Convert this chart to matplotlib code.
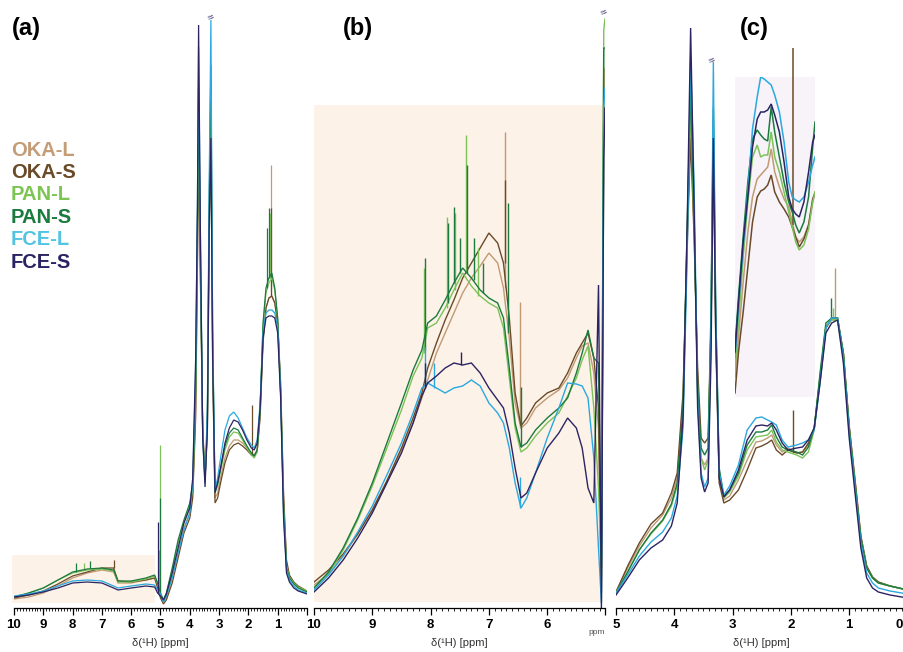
import matplotlib
matplotlib.use('Agg')
import matplotlib.pyplot as plt
from matplotlib.patches import Rectangle
from matplotlib.ticker import MultipleLocator

plt.rcParams['font.family'] = ['Liberation Sans', 'DejaVu Sans']

names = ['OKA-L', 'OKA-S', 'PAN-L', 'PAN-S', 'FCE-L', 'FCE-S']
line_colors = ['#C09A74', '#6B4A28', '#7CC258', '#1B7A3E', '#2BA8DF', '#2B2463']
legend_colors = ['#C49D78', '#6B4A28', '#7CC552', '#1B7A3E', '#52C4E2', '#2B2463']

# ---- panel (a): full spectrum, 10 -> 0 ppm ----
a_ppm = [10.0, 9.5, 9.0, 8.5, 8.0, 7.5, 7.0, 6.6, 6.45, 6.0,
         5.5, 5.2, 5.1, 5.0, 4.9, 4.8, 4.6, 4.4, 4.2, 4.0,
         3.9, 3.8, 3.74, 3.70, 3.64, 3.56, 3.48, 3.40, 3.34, 3.28, 3.22, 3.14,
         3.05, 2.95, 2.8, 2.65, 2.5, 2.35, 2.2, 2.05, 1.9, 1.8, 1.7, 1.6,
         1.5, 1.4, 1.3, 1.2, 1.1, 1.0, 0.9, 0.8, 0.7, 0.6, 0.45, 0.3, 0.0]
a_oka_l = [9, 11, 15, 22, 30, 35, 38, 36, 25, 25,
           28, 30, 22, 12, 6, 10, 30, 55, 80, 95,
           115, 200, 350, 470, 340, 180, 130, 180, 380, 496, 250, 110,
           115, 130, 150, 162, 168, 168, 165, 160, 155, 153, 158, 195,
           270, 300, 310, 312, 305, 285, 220, 110, 45, 32, 25, 21, 16]
a_oka_s = [10, 13, 17, 24, 32, 36, 40, 40, 27, 26,
           28, 30, 20, 10, 4, 8, 25, 50, 75, 90,
           110, 190, 340, 460, 330, 180, 130, 175, 360, 480, 240, 105,
           110, 125, 145, 158, 163, 165, 162, 158, 153, 152, 157, 190,
           265, 300, 310, 312, 305, 285, 225, 115, 48, 33, 26, 22, 17]
a_pan_l = [11, 15, 20, 28, 35, 38, 39, 37, 26, 26,
           29, 32, 24, 14, 8, 14, 38, 65, 85, 102,
           120, 210, 370, 500, 350, 175, 128, 185, 390, 530, 265, 115,
           122, 137, 158, 171, 176, 175, 168, 160, 153, 150, 156, 198,
           282, 315, 325, 330, 318, 288, 215, 102, 42, 31, 25, 21, 17]
a_pan_s = [11, 15, 20, 28, 36, 39, 40, 38, 27, 27,
           30, 33, 25, 15, 8, 15, 40, 68, 88, 105,
           125, 220, 380, 520, 360, 175, 128, 190, 400, 543, 270, 118,
           125, 140, 162, 175, 180, 178, 170, 162, 155, 152, 158, 200,
           285, 320, 330, 335, 320, 290, 215, 100, 40, 30, 24, 20, 16]
a_fce_l = [12, 14, 17, 22, 27, 28, 27, 22, 20, 22,
           24, 23, 18, 14, 6, 12, 30, 55, 78, 95,
           125, 240, 400, 561, 380, 170, 125, 200, 420, 588, 280, 118,
           130, 150, 178, 192, 196, 190, 180, 170, 163, 160, 168, 205,
           275, 295, 298, 298, 295, 280, 215, 95, 38, 28, 22, 18, 15]
a_fce_s = [11, 13, 16, 20, 25, 26, 25, 20, 18, 20,
           22, 21, 15, 12, 8, 14, 35, 60, 85, 100,
           130, 250, 400, 583, 380, 170, 121, 180, 380, 470, 250, 115,
           125, 140, 165, 180, 188, 186, 178, 168, 160, 158, 165, 200,
           270, 290, 292, 292, 290, 275, 210, 90, 35, 26, 20, 17, 14]
# narrow signals: (series, ppm, base, top)
a_spikes = [(2, 5.02, 15, 163), (3, 5.03, 15, 110), (5, 5.08, 15, 86), (0, 5.05, 12, 58),
            (1, 6.6, 40, 48), (0, 1.22, 312, 443), (1, 1.24, 312, 400),
            (3, 1.28, 330, 400), (2, 1.25, 330, 395), (3, 1.35, 320, 380),
            (3, 7.9, 36, 45), (2, 7.6, 38, 45), (3, 7.4, 40, 47), (1, 1.87, 153, 203)]

# ---- panel (b): 10 -> 5 ppm expansion ----
b_ppm = [10.0, 9.75, 9.5, 9.25, 9.0, 8.75, 8.5, 8.3, 8.15, 8.05,
         7.9, 7.75, 7.6, 7.45, 7.3, 7.15, 7.0, 6.85, 6.75, 6.65,
         6.55, 6.45, 6.35, 6.2, 6.0, 5.8, 5.65, 5.5, 5.4, 5.3,
         5.2, 5.12, 5.07, 5.03, 5.01]
b_oka_l = [23, 34, 52, 74, 98, 127, 158, 185, 210, 228,
           255, 275, 295, 315, 330, 342, 355, 345, 320, 270,
           205, 180, 185, 200, 210, 218, 230, 250, 262, 265,
           235, 180, 20, 540, 520]
b_oka_s = [26, 38, 54, 74, 98, 127, 160, 190, 215, 240,
           265, 288, 308, 330, 345, 360, 375, 365, 345, 290,
           215, 182, 190, 205, 215, 220, 235, 255, 265, 275,
           250, 200, 15, 455, 500]
b_pan_l = [20, 35, 58, 88, 122, 160, 198, 232, 250, 280,
           285, 300, 318, 335, 322, 312, 305, 300, 280, 230,
           180, 156, 160, 172, 185, 195, 212, 230, 248, 262,
           200, 120, 30, 578, 589]
b_pan_s = [20, 36, 60, 90, 125, 165, 205, 238, 258, 285,
           292, 308, 325, 340, 330, 318, 310, 305, 290, 240,
           185, 161, 165, 178, 190, 200, 210, 235, 255, 278,
           250, 245, 40, 560, 560]
b_fce_l = [18, 33, 52, 76, 102, 133, 165, 195, 220, 225,
           220, 215, 220, 222, 228, 222, 205, 195, 185, 160,
           125, 100, 110, 135, 170, 200, 225, 224, 222, 210,
           150, 60, 5, 500, 520]
b_fce_s = [16, 30, 48, 70, 95, 125, 155, 185, 212, 225,
           232, 240, 245, 243, 245, 235, 220, 208, 200, 175,
           140, 110, 115, 135, 160, 175, 190, 180, 160, 120,
           105, 323, 0, 450, 500]
b_spikes = [(2, 8.12, 255, 340), (3, 8.10, 258, 350), (2, 7.72, 300, 391), (3, 7.70, 305, 385),
            (3, 7.60, 325, 401), (2, 7.58, 318, 395), (3, 7.50, 335, 370), (2, 7.40, 335, 473),
            (3, 7.38, 335, 443), (3, 7.25, 328, 370), (2, 7.18, 312, 360), (3, 7.10, 315, 345),
            (0, 6.72, 320, 476), (1, 6.72, 345, 428), (3, 6.68, 275, 405), (0, 6.46, 180, 306),
            (4, 6.46, 100, 131), (3, 6.45, 161, 221), (5, 8.10, 220, 245), (5, 7.47, 243, 256),
            (4, 8.10, 222, 261), (4, 7.95, 220, 245)]

# ---- panel (c): 5 -> 0 ppm ----
c_ppm = [5.0, 4.8, 4.6, 4.4, 4.2, 4.05, 3.95, 3.85, 3.78, 3.72,
         3.66, 3.6, 3.54, 3.48, 3.42, 3.37, 3.33, 3.29, 3.23, 3.15,
         3.05, 2.9, 2.75, 2.6, 2.5, 2.4, 2.33, 2.25, 2.15, 2.05,
         1.9, 1.8, 1.7, 1.6, 1.5, 1.4, 1.3, 1.2, 1.1, 1.0,
         0.9, 0.8, 0.7, 0.6, 0.5, 0.3, 0.0]
c_oka_l = [16, 40, 62, 80, 93, 110, 130, 210, 370, 480,
           380, 230, 150, 143, 150, 280, 480, 280, 130, 108,
           112, 128, 148, 166, 167, 170, 173, 163, 156, 160,
           155, 156, 163, 180, 230, 280, 288, 288, 255, 182,
           128, 72, 42, 31, 26, 22, 18]
c_oka_s = [16, 42, 65, 84, 95, 115, 135, 215, 360, 470,
           370, 240, 170, 165, 170, 280, 470, 270, 125, 105,
           108, 118, 138, 160, 162, 165, 168, 158, 153, 158,
           155, 156, 165, 180, 230, 280, 290, 290, 255, 182,
           128, 72, 42, 31, 26, 22, 18]
c_pan_l = [15, 36, 58, 74, 87, 102, 122, 195, 370, 500,
           380, 215, 150, 138, 148, 290, 490, 290, 135, 110,
           116, 132, 158, 171, 172, 173, 178, 166, 158, 156,
           153, 150, 156, 178, 232, 282, 288, 288, 255, 180,
           125, 70, 40, 30, 25, 22, 18]
c_pan_s = [15, 36, 58, 75, 88, 104, 125, 200, 380, 520,
           390, 220, 160, 153, 160, 300, 500, 300, 140, 112,
           118, 135, 163, 176, 176, 178, 183, 171, 161, 158,
           156, 153, 161, 180, 235, 285, 290, 290, 255, 180,
           125, 70, 40, 30, 25, 22, 18]
c_fce_l = [15, 33, 52, 66, 76, 90, 112, 180, 350, 550,
           420, 210, 135, 121, 130, 280, 546, 300, 135, 113,
           122, 143, 178, 190, 191, 188, 186, 183, 168, 161,
           163, 165, 168, 178, 225, 280, 290, 290, 250, 175,
           120, 65, 35, 25, 20, 17, 14]
c_fce_s = [13, 30, 48, 60, 68, 82, 105, 190, 380, 580,
           400, 200, 130, 116, 125, 250, 470, 280, 130, 111,
           118, 138, 168, 182, 183, 182, 185, 178, 165, 158,
           160, 161, 168, 180, 225, 275, 285, 288, 245, 170,
           115, 60, 30, 20, 16, 13, 10]
c_spikes = [(1, 1.97, 155, 198), (0, 1.25, 288, 340), (3, 1.32, 290, 310), (2, 1.28, 288, 300)]

# ---- inset in (c): 2.96 -> 1.59 ppm, vertical expansion ----
ins_ppm = [2.96, 2.9, 2.82, 2.74, 2.66, 2.58, 2.52, 2.46, 2.4, 2.34, 2.28,
           2.2, 2.12, 2.04, 1.98, 1.92, 1.86, 1.78, 1.7, 1.63, 1.59]
ins_oka_l = [20, 60, 115, 165, 200, 218, 222, 226, 230, 248, 225,
             210, 198, 190, 175, 160, 155, 160, 172, 195, 205]
ins_oka_s = [4, 45, 85, 130, 175, 200, 206, 208, 212, 222, 205,
             195, 188, 180, 170, 160, 150, 158, 172, 198, 204]
ins_pan_l = [30, 75, 140, 195, 240, 252, 240, 242, 242, 265, 240,
             225, 205, 185, 170, 155, 147, 152, 168, 195, 205]
ins_pan_s = [50, 100, 160, 215, 258, 267, 262, 258, 256, 290, 265,
             240, 215, 195, 185, 172, 164, 175, 200, 250, 275]
ins_fce_l = [40, 90, 150, 205, 268, 300, 320, 318, 315, 312, 302,
             285, 255, 215, 200, 197, 195, 200, 215, 232, 240]
ins_fce_s = [45, 95, 155, 200, 250, 278, 285, 285, 287, 293, 282,
             265, 235, 200, 188, 183, 180, 195, 225, 255, 262]
ins_spikes = [(1, 1.97, 172, 349)]

W, H = 904, 652
fig = plt.figure(figsize=(W / 100, H / 100), dpi=100)


def px_axes(x0, x1, y0, y1):
    return fig.add_axes([x0 / W, 1 - y1 / H, (x1 - x0) / W, (y1 - y0) / H])


def style_axis(ax, lo, hi, labels):
    ax.set_xlim(hi, lo)
    ax.set_ylim(0, 608)
    ax.patch.set_alpha(0)
    for s in ['left', 'right', 'top']:
        ax.spines[s].set_visible(False)
    ax.spines['bottom'].set_linewidth(0.9)
    ax.set_yticks([])
    ax.set_xticks(list(labels.keys()))
    ax.set_xticklabels(list(labels.values()), fontsize=9.5, fontweight='bold')
    ax.xaxis.set_minor_locator(MultipleLocator(0.1))
    ax.tick_params(axis='x', which='major', length=5, width=0.9, pad=3)
    ax.tick_params(axis='x', which='minor', length=2.5, width=0.6)
    ax.set_xlabel('δ(¹H) [ppm]', fontsize=8, color='#333333', labelpad=5)


def draw(ax, ppm, series, spikes, lw=1.0, clip=True):
    for i, vals in enumerate(series):
        ax.plot(ppm, vals, color=line_colors[i], lw=lw, solid_joinstyle='miter', zorder=2 + i * 0.1)
    for i, p, lo, hi in spikes:
        ax.vlines(p, lo, hi, color=line_colors[i], lw=lw, zorder=2 + i * 0.1, clip_on=clip)


ax_a = px_axes(14, 307, 0, 608)
style_axis(ax_a, 0, 10, {v: ('' if v == 0 else str(v)) for v in range(11)})
ax_a.add_patch(Rectangle((5.18, 5), 4.9, 48, facecolor='#FDF2E8', edgecolor='none', zorder=0, clip_on=False))
draw(ax_a, a_ppm, [a_oka_l, a_oka_s, a_pan_l, a_pan_s, a_fce_l, a_fce_s], a_spikes, lw=0.9)

ax_b = px_axes(314, 605.5, 0, 608)
style_axis(ax_b, 5, 10, {10: '10', 9: '9', 8: '8', 7: '7', 6: '6', 5: ''})
ax_b.add_patch(Rectangle((5.04, 6), 4.96, 497, facecolor='#FDF2E8', edgecolor='none', zorder=0))
draw(ax_b, b_ppm, [b_oka_l, b_oka_s, b_pan_l, b_pan_s, b_fce_l, b_fce_s], b_spikes)
ax_b.text(5.16, -25, 'ppm', fontsize=6, color='#555555', ha='center', va='center')

ax_c = px_axes(616, 907.5, 0, 608)
style_axis(ax_c, 0, 5, {v: ('' if v == 0 else str(v)) for v in range(6)})
draw(ax_c, c_ppm, [c_oka_l, c_oka_s, c_pan_l, c_pan_s, c_fce_l, c_fce_s], c_spikes)
# the 0 label sits right at the figure edge
fig.text(903 / W, 1 - 625 / H, '0', fontsize=9.5, fontweight='bold', ha='right', va='center')

ax_in = px_axes(735, 815, 77, 397)
ax_in.set_xlim(2.96, 1.59)
ax_in.set_ylim(0, 320)
ax_in.set_facecolor('#F7F3F9')
for s in ax_in.spines.values():
    s.set_visible(False)
ax_in.set_xticks([])
ax_in.set_yticks([])
draw(ax_in, ins_ppm, [ins_oka_l, ins_oka_s, ins_pan_l, ins_pan_s, ins_fce_l, ins_fce_s],
     ins_spikes, lw=1.1, clip=False)

# break marks on clipped peaks
for x, y in [(211, 18), (604, 13), (712, 61)]:
    fig.text(x / W, 1 - y / H, '≈', fontsize=8, color='#2B2463', ha='center', va='center', rotation=25)

for lab, x in [('(a)', 12), ('(b)', 343), ('(c)', 740)]:
    fig.text(x / W, 1 - 29 / H, lab, fontsize=17, fontweight='bold', ha='left', va='center')

for k, (n, c) in enumerate(zip(names, legend_colors)):
    fig.text(11 / W, 1 - (150 + k * 22.4) / H, n, fontsize=14.5, fontweight='bold', color=c,
             ha='left', va='center')

fig.savefig('out.png', dpi=100)
